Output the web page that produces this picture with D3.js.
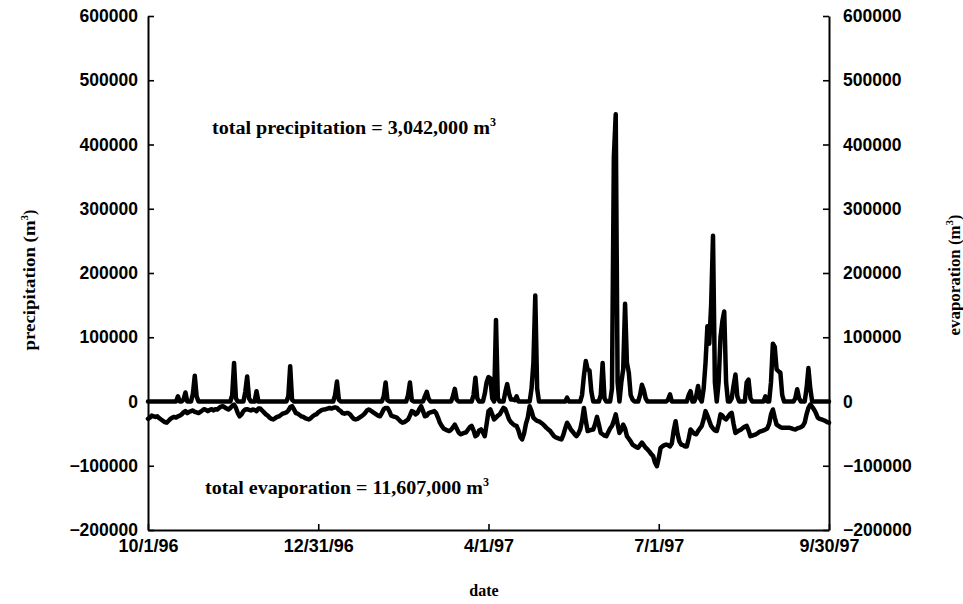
<!DOCTYPE html>
<html>
<head>
<meta charset="utf-8">
<script src="https://cdn.jsdelivr.net/npm/d3@7"></script>
<style>
  body { margin: 0; background: #fff; }
  svg { display: block; }
</style>
</head>
<body>
<svg id="chart" width="963" height="604"></svg>
<script>
// Daily water budget, water year 10/1/96 - 9/30/97 (m^3 per day)
const startDate = "1996-10-01";
const endDate = "1997-09-30";

// precipitation volume, one value per day starting 10/1/96
const precipitation = [
  0, 0, 0, 0, 0, 0, 0, 0, 0, 0,
  0, 0, 0, 0, 0, 0, 8000, 0, 0, 3000,
  14000, 0, 0, 0, 12000, 40000, 8000, 0, 0, 0,
  0, 0, 0, 0, 0, 0, 0, 0, 0, 0,
  0, 0, 0, 0, 0, 10000, 60000, 5000, 0, 0,
  0, 0, 15000, 39000, 5000, 0, 0, 0, 16000, 0,
  0, 0, 0, 0, 0, 0, 0, 0, 0, 0,
  0, 0, 0, 0, 0, 8000, 55000, 3000, 0, 0,
  0, 0, 0, 0, 0, 0, 0, 0, 0, 0,
  0, 0, 0, 0, 0, 0, 0, 0, 0, 0,
  10000, 31000, 3000, 0, 0, 0, 0, 0, 0, 0,
  0, 0, 0, 0, 0, 0, 0, 0, 0, 0,
  0, 0, 0, 0, 0, 0, 8000, 29500, 2000, 0,
  0, 0, 0, 0, 0, 0, 0, 0, 0, 10000,
  29500, 2000, 0, 0, 0, 0, 0, 0, 8000, 15000,
  4000, 0, 0, 0, 0, 0, 0, 0, 0, 0,
  0, 0, 0, 8000, 19700, 3000, 0, 0, 0, 0,
  0, 0, 0, 0, 10000, 37000, 5000, 0, 0, 0,
  12000, 30000, 38000, 36000, 5000, 0, 127000, 5000, 0, 0,
  0, 15000, 27000, 12000, 3000, 3000, 2000, 8000, 0, 0,
  0, 0, 0, 0, 0, 20000, 60000, 165000, 20000, 0,
  0, 0, 0, 0, 0, 0, 0, 0, 0, 0,
  0, 0, 0, 0, 6000, 0, 0, 0, 0, 0,
  0, 0, 10000, 40000, 63000, 50000, 48000, 15000, 0, 0,
  0, 0, 10000, 60000, 5000, 0, 0, 0, 20000, 380000,
  447000, 30000, 0, 30000, 50000, 152000, 60000, 45000, 10000, 3000,
  0, 0, 0, 10000, 26000, 18000, 5000, 0, 0, 0,
  0, 0, 0, 0, 0, 0, 0, 0, 3000, 11000,
  0, 0, 0, 0, 0, 0, 0, 0, 0, 10000,
  16000, 0, 0, 8000, 24000, 5000, 0, 20000, 60000, 117000,
  90000, 150000, 258000, 30000, 0, 30000, 100000, 125000, 140000, 30000,
  0, 0, 5000, 25000, 42000, 8000, 0, 0, 0, 0,
  30000, 34000, 5000, 0, 0, 0, 0, 0, 0, 0,
  8000, 0, 0, 30000, 90000, 85000, 50000, 47000, 45000, 10000,
  0, 0, 0, 0, 0, 0, 5000, 19000, 5000, 0,
  0, 0, 20000, 52000, 20000, 0, 0, 0, 0, 0,
  0, 0, 0, 0, 0
];

// evaporation volume (plotted as negative), one value per day starting 10/1/96
const evaporation = [
  -27000, -25000, -22000, -23000, -24000, -23000, -26000, -28000, -30000, -32000,
  -33000, -30000, -27000, -25000, -24000, -25000, -23000, -22000, -20000, -17000,
  -15000, -18000, -16000, -15000, -14000, -16000, -17000, -18000, -16000, -14000,
  -12000, -13000, -15000, -13000, -12000, -14000, -12000, -12500, -10000, -8000,
  -7300, -9000, -11000, -12500, -10000, -7000, -4700, -10000, -18000, -23000,
  -20000, -15000, -12500, -12000, -13000, -14000, -12500, -13000, -15000, -11000,
  -11000, -14000, -17000, -20000, -22000, -25000, -27000, -28000, -26000, -24000,
  -23000, -21000, -19000, -18000, -17000, -14000, -9000, -7300, -12000, -18000,
  -19000, -21000, -23000, -24000, -26000, -27000, -28000, -26000, -23000, -21000,
  -20000, -17000, -15000, -13000, -12500, -12000, -11000, -10000, -11000, -10000,
  -9000, -10000, -13000, -15000, -18000, -19000, -18000, -18000, -20000, -24000,
  -27000, -28000, -27000, -25000, -23000, -21000, -18000, -14000, -12500, -14000,
  -16000, -18000, -20000, -22000, -23000, -18000, -12000, -10000, -10000, -15000,
  -22000, -23000, -24000, -25000, -28000, -31000, -33000, -32000, -30000, -28000,
  -22000, -15000, -16000, -20000, -18000, -12000, -7300, -15000, -23000, -22000,
  -18000, -17000, -16000, -15000, -18000, -25000, -33000, -38000, -42000, -43500,
  -45000, -46000, -44000, -40000, -36000, -42000, -48000, -51000, -50000, -49000,
  -48000, -44000, -40000, -38000, -45000, -54000, -52000, -45000, -43500, -48000,
  -54000, -35000, -15000, -12400, -20000, -28000, -25000, -22000, -20000, -15000,
  -10000, -12000, -20000, -28000, -32000, -35000, -37000, -38000, -45000, -55000,
  -59000, -50000, -35000, -25000, -7300, -15000, -25000, -28000, -30000, -31000,
  -33000, -35000, -38000, -41000, -43500, -46000, -50000, -54000, -56000, -57000,
  -58000, -59000, -52000, -42000, -33000, -38000, -43500, -47000, -51000, -54000,
  -50000, -43500, -30000, -10000, -30000, -46000, -45000, -44000, -43500, -35000,
  -24000, -36000, -49000, -51000, -53000, -54000, -48000, -42000, -38000, -30000,
  -20000, -35000, -49000, -44000, -36000, -42000, -54000, -58000, -62000, -67000,
  -69000, -71000, -72000, -68000, -64000, -68000, -72000, -74600, -78000, -82000,
  -85000, -95000, -100600, -88000, -72000, -70000, -68000, -67000, -68000, -70000,
  -65000, -45000, -30600, -50000, -62000, -67000, -68000, -70000, -70000, -58000,
  -43500, -47000, -50000, -51000, -46000, -42000, -38000, -28000, -15000, -22000,
  -30000, -38000, -42000, -45000, -46000, -35000, -20000, -22000, -26000, -28000,
  -24000, -20000, -17600, -35000, -49000, -47000, -45000, -43500, -41000, -39000,
  -38000, -45000, -54000, -53000, -52000, -51000, -49000, -47000, -46000, -45000,
  -43500, -42000, -35000, -20000, -12400, -25000, -36000, -38000, -40000, -41000,
  -41000, -41000, -41000, -41000, -42000, -43000, -43500, -42000, -41000, -40000,
  -38000, -33000, -20000, -10000, -4700, -8000, -12400, -18000, -25000, -27000,
  -28000, -29000, -30000, -32000, -33000
];

const xTickDates = ["1996-10-01", "1996-12-31", "1997-04-01", "1997-07-01", "1997-09-30"];
const xTickLabels = ["10/1/96", "12/31/96", "4/1/97", "7/1/97", "9/30/97"];
const yTicks = [-200000, -100000, 0, 100000, 200000, 300000, 400000, 500000, 600000];

const parse = d3.utcParse("%Y-%m-%d");
const start = parse(startDate);
const dates = precipitation.map((_, i) => d3.utcDay.offset(start, i));

const svg = d3.select("#chart");
const plotLeft = 148, plotRight = 829, plotTop = 16, plotBottom = 530;

const x = d3.scaleUtc().domain([start, parse(endDate)]).range([plotLeft, plotRight]);
const y = d3.scaleLinear().domain([-200000, 600000]).range([plotBottom, plotTop]);

const tickFont = "'Liberation Sans', Arial, sans-serif";
const serifFont = "'Liberation Serif', 'Times New Roman', serif";

function styleAxis(g) {
  g.select(".domain").attr("stroke", "#000").attr("stroke-width", 2);
  g.selectAll(".tick line").attr("stroke", "#000").attr("stroke-width", 1.6);
  g.selectAll(".tick text")
    .attr("fill", "#000")
    .style("font-family", tickFont)
    .style("font-weight", "bold")
    .style("font-size", "17.5px");
}

// left axis: precipitation
svg.append("g")
  .attr("transform", `translate(${plotLeft},0)`)
  .call(d3.axisLeft(y).tickValues(yTicks).tickSize(-6).tickSizeOuter(0)
    .tickPadding(10).tickFormat(d3.format("d")))
  .call(styleAxis);

// right axis: evaporation
svg.append("g")
  .attr("transform", `translate(${plotRight},0)`)
  .call(d3.axisRight(y).tickValues(yTicks).tickSize(-6).tickSizeOuter(0)
    .tickPadding(14).tickFormat(d3.format("d")))
  .call(styleAxis);

// bottom axis: date
const xTickValues = xTickDates.map(parse);
svg.append("g")
  .attr("transform", `translate(0,${plotBottom})`)
  .call(d3.axisBottom(x).tickValues(xTickValues).tickSize(-6).tickSizeOuter(0)
    .tickPadding(9).tickFormat((d, i) => xTickLabels[i]))
  .call(styleAxis)
  .call(g => g.selectAll(".tick text").style("font-size", "18px"));

// series
const line = d3.line()
  .x((d, i) => x(dates[i]))
  .y(d => y(d));

svg.append("path")
  .datum(evaporation)
  .attr("d", line)
  .attr("fill", "none")
  .attr("stroke", "#000")
  .attr("stroke-width", 4.5)
  .attr("stroke-linejoin", "round")
  .attr("stroke-linecap", "round");

svg.append("path")
  .datum(precipitation)
  .attr("d", line)
  .attr("fill", "none")
  .attr("stroke", "#000")
  .attr("stroke-width", 4.5)
  .attr("stroke-linejoin", "round")
  .attr("stroke-linecap", "round");

// axis titles (rotated), with a superscript unit exponent
function titleWithSup(g, base, sup, tail, len) {
  const t = g.append("text")
    .attr("text-anchor", "middle")
    .style("font-family", serifFont)
    .style("font-weight", "bold")
    .style("font-size", "16px")
    .attr("fill", "#000");
  t.append("tspan").attr("textLength", len).attr("lengthAdjust", "spacingAndGlyphs").text(base);
  t.append("tspan").attr("dy", -7).style("font-size", "11px").text(sup);
  t.append("tspan").attr("dy", 7).text(tail);
  return t;
}

titleWithSup(svg.append("g").attr("transform", "translate(35,280) rotate(-90)"),
  "precipitation (m", "3", ")", 130);
titleWithSup(svg.append("g").attr("transform", "translate(960,275) rotate(-90)"),
  "evaporation (m", "3", ")", 110);

svg.append("text")
  .attr("x", 484).attr("y", 596)
  .attr("text-anchor", "middle")
  .style("font-family", serifFont)
  .style("font-weight", "bold")
  .style("font-size", "16px")
  .attr("fill", "#000")
  .text("date");

// totals
function note(xPos, yPos, label, len) {
  const t = svg.append("text")
    .attr("x", xPos).attr("y", yPos)
    .style("font-family", serifFont)
    .style("font-weight", "bold")
    .style("font-size", "18px")
    .attr("fill", "#000");
  t.append("tspan").attr("textLength", len).attr("lengthAdjust", "spacingAndGlyphs").text(label);
  t.append("tspan").attr("dy", -8).style("font-size", "12px").text("3");
}
note(212, 134, "total precipitation = 3,042,000 m", 278);
note(205, 494, "total evaporation = 11,607,000 m", 278);
</script>
</body>
</html>
